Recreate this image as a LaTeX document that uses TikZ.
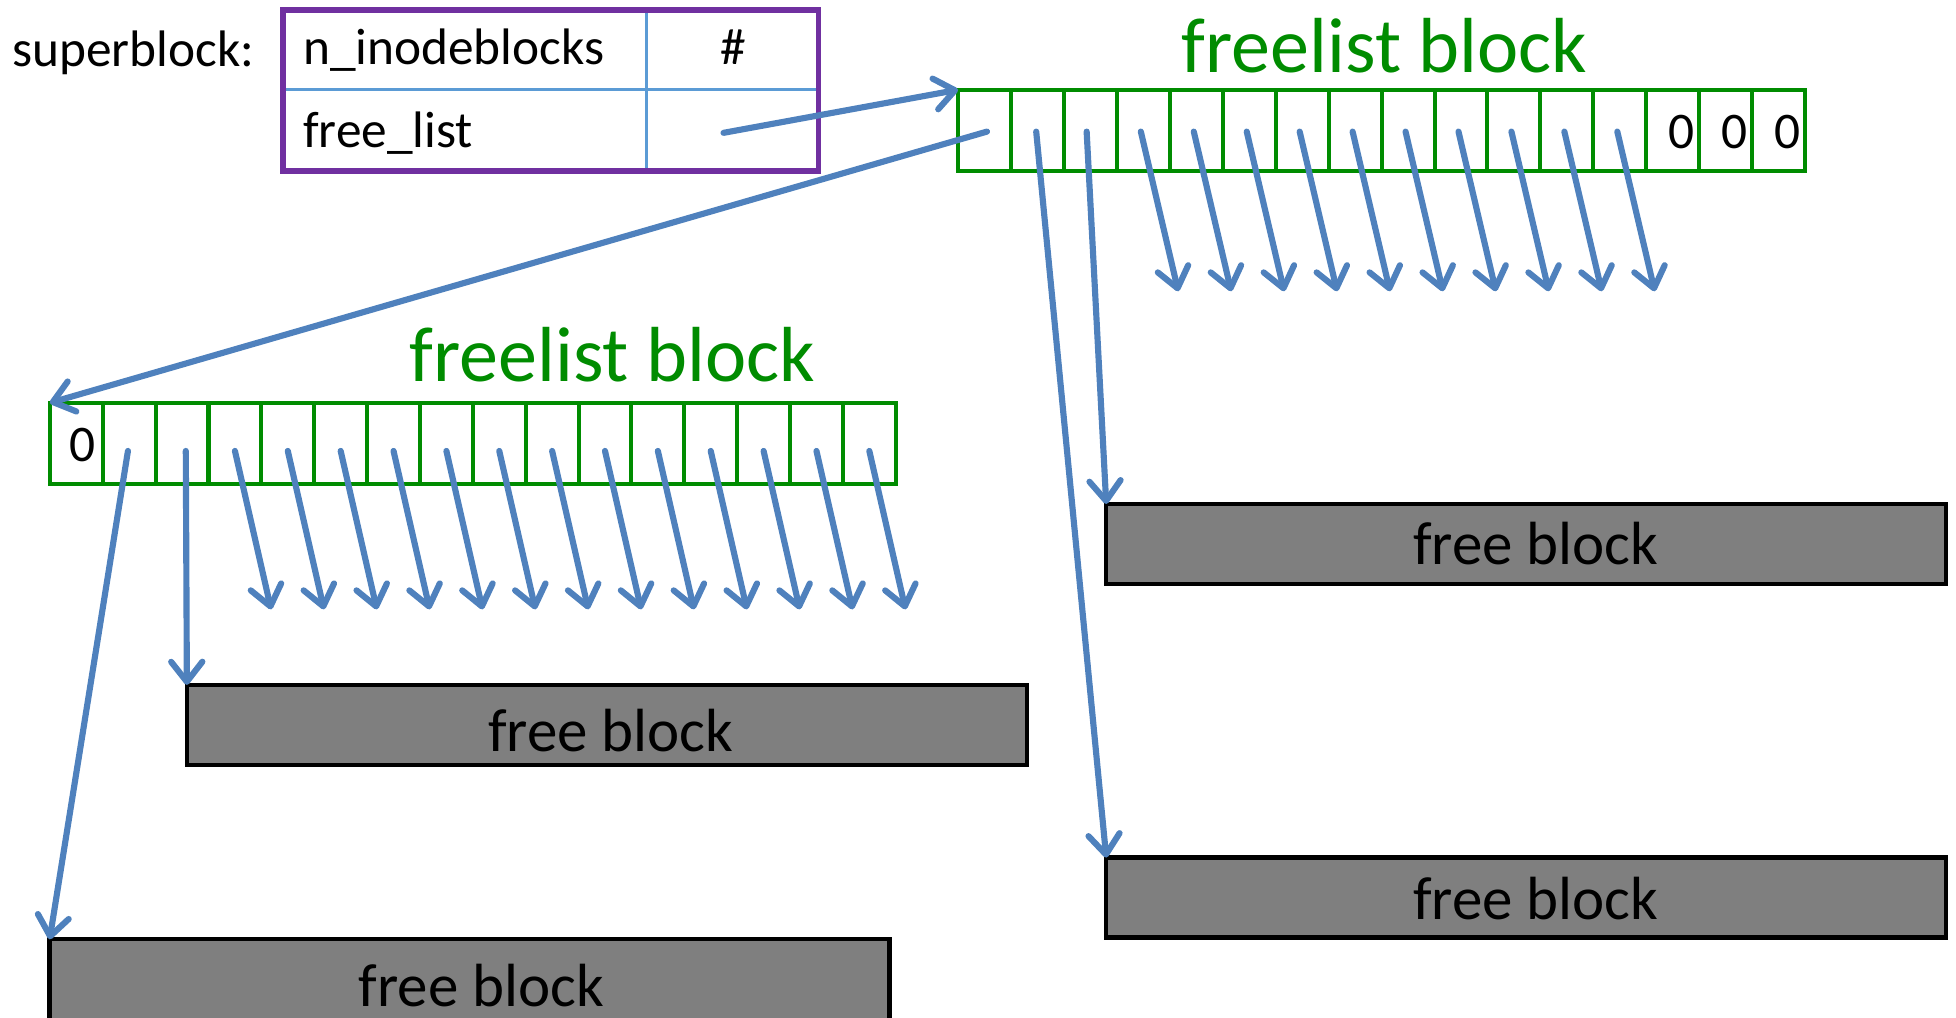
\documentclass[tikz,border=0pt]{standalone}
\usepackage{fontspec}
\setmainfont{Carlito}
\usetikzlibrary{arrows.meta,calc}
\definecolor{listgreen}{HTML}{008C00}
\definecolor{sbpurple}{HTML}{7030A0}
\definecolor{gridblue}{HTML}{5B9BD5}
\definecolor{ptrblue}{HTML}{4F81BD}
\definecolor{blockgray}{HTML}{7F7F7F}

\begin{document}
\begin{tikzpicture}[x=0.01cm,y=-0.01cm,
  every node/.style={inner sep=0pt, outer sep=0pt},
  sbcell/.style={draw=gridblue, line width=0.6pt},
  sbframe/.style={draw=sbpurple, line width=1.3pt, minimum width=4.29cm, minimum height=1.29cm},
  slot/.style={draw=listgreen, line width=0.9pt, minimum width=0.424cm, minimum height=0.65cm},
  freeblk/.style={draw=black, fill=blockgray, line width=1pt, minimum width=6.73cm, minimum height=0.64cm},
  ptr/.style={draw=ptrblue, line width=1.4pt, line cap=round,
    -{Straight Barb[length=0.16cm,width=0.25cm,round]}},
  smalltxt/.style={font=\fontsize{11.7pt}{14pt}\selectfont},
  bigtxt/.style={font=\fontsize{17.8pt}{21pt}\selectfont, text=listgreen},
  blktxt/.style={font=\fontsize{13.9pt}{17pt}\selectfont}
]
\useasboundingbox (0,0) rectangle (1568,816);
\clip (0,0) rectangle (1568,816);

% superblock table
\node[sbcell, minimum width=2.91cm, minimum height=0.64cm] (k1) at (372.5,40) {};
\node[sbcell, minimum width=1.38cm, minimum height=0.64cm] (v1) at (587,40) {};
\node[sbcell, minimum width=2.91cm, minimum height=0.65cm] (k2) at (372.5,104.5) {};
\node[sbcell, minimum width=1.38cm, minimum height=0.65cm] (v2) at (587,104.5) {};
\node[sbframe] (sb) at (441.5,72.5) {};
\node[smalltxt, anchor=base west] (sblabel) at (10,53) {superblock:};
\node[smalltxt, anchor=base west] (k1t) at (243,52) {n\_inodeblocks};
\node[smalltxt, anchor=base] (v1t) at (588,52) {\#};
\node[smalltxt, anchor=base west] (k2t) at (243,118) {free\_list};

% freelist blocks
\node[bigtxt, anchor=base] (title1) at (1110,58) {freelist block};
\node[bigtxt, anchor=base] (title2) at (491,306) {freelist block};
\foreach \i in {0,...,15} {
  \node[slot] (t\i) at ({768+42.44*(\i+0.5)},104.5) {};
  \node[slot] (b\i) at ({40+42.38*(\i+0.5)},355.5) {};
}
\foreach \i in {13,14,15}
  \node[smalltxt] (z\i) at ($(t\i.center)+(7,1)$) {0};
\node[smalltxt] (z0) at ($(b0.center)+(5,1)$) {0};

% free data blocks
\node[freeblk] (fbA) at (1223.5,436) {};
\node[freeblk] (fbB) at (1223.5,719.5) {};
\node[freeblk] (fbC) at (486.5,581) {};
\node[freeblk, minimum height=0.74cm] (fbD) at (376.5,790) {};
\node[blktxt] (fbAt) at (1231,436) {free block};
\node[blktxt] (fbBt) at (1231,720) {free block};
\node[blktxt] (fbCt) at (489.5,586) {free block};
\node[blktxt] (fbDt) at (386,790) {free block};

% pointers
\draw[ptr] ($(v2.center)+(-7,2)$) -- (t0.north west);
\draw[ptr] ($(t0.center)+(2,1)$) -- (b0.north west);
\draw[ptr] ($(t1.center)+(-1,1)$) -- (fbB.north west);
\draw[ptr] ($(t2.center)+(-3,1)$) -- (fbA.north west);
\draw[ptr] ($(b1.center)+(-1,6)$) -- (fbD.north west);
\draw[ptr] ($(b2.center)+(3,6)$) -- (fbC.north west);
\foreach \i in {3,...,12} {
  \coordinate (ts\i) at ($(t\i.center)+(-2,1)$);
  \coordinate (te\i) at ($(t\i.center)+(28,129)$);
  \draw[ptr] (ts\i) -- (te\i);
}
\foreach \i in {3,...,15} {
  \coordinate (bs\i) at ($(b\i.center)+(0,6)$);
  \coordinate (be\i) at ($(b\i.center)+(29,133)$);
  \draw[ptr] (bs\i) -- (be\i);
}
\end{tikzpicture}
\end{document}
